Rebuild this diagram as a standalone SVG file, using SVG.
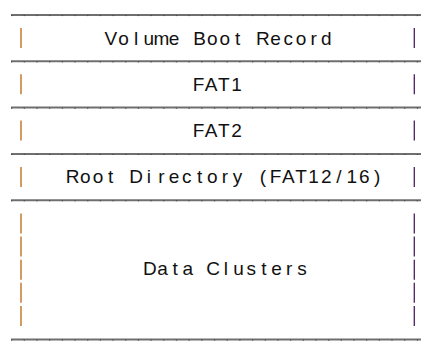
<svg xmlns="http://www.w3.org/2000/svg" width="444" height="354" viewBox="0 0 444 354">
  <style>
    .rule { stroke: #6f6f6f; stroke-width: 2; fill: none; }
    .tick { stroke: #474747; stroke-width: 1; stroke-dasharray: 1.3 11.38; fill: none; }
    .barL { stroke: #c0701f; stroke-width: 1.4; }
    .barR { stroke: #4a1e5e; stroke-width: 1.3; }
    .lbl { font-family: "Liberation Sans", Arial, sans-serif; font-size: 19px; fill: #111111; text-anchor: middle; }
  </style>
  <defs>
    <g id="rule">
      <line class="rule" x1="11" y1="0" x2="421" y2="0"/>
      <line class="tick" x1="11" y1="0.6" x2="421" y2="0.6"/>
    </g>
  </defs>
  <rect width="444" height="354" fill="#ffffff"/>

  <!-- horizontal dividers between the regions -->
  <g id="dividers">
    <use href="#rule" y="15"/>
    <use href="#rule" y="61.3"/>
    <use href="#rule" y="107.6"/>
    <use href="#rule" y="153.9"/>
    <use href="#rule" y="200.2"/>
    <use href="#rule" y="339.5"/>
  </g>

  <g id="vbr">
    <line class="barL" x1="21" y1="28" x2="21" y2="48"/>
    <line class="barR" x1="414.3" y1="28" x2="414.3" y2="48"/>
    <text class="lbl" y="44.5" x="110.76 123.44 136.12 148.80 161.48 174.16 186.84 199.52 212.20 224.88 237.56 250.24 262.92 275.60 288.28 300.96 313.64 326.32">Volume Boot Record</text>
  </g>

  <g id="fat1">
    <line class="barL" x1="21" y1="74.3" x2="21" y2="94.3"/>
    <line class="barR" x1="414.3" y1="74.3" x2="414.3" y2="94.3"/>
    <text class="lbl" y="90.8" x="198.52 211.20 223.88 236.56">FAT1</text>
  </g>

  <g id="fat2">
    <line class="barL" x1="21" y1="120.6" x2="21" y2="140.6"/>
    <line class="barR" x1="414.3" y1="120.6" x2="414.3" y2="140.6"/>
    <text class="lbl" y="137.1" x="198.52 211.20 223.88 236.56">FAT2</text>
  </g>

  <g id="root-dir">
    <line class="barL" x1="21" y1="166.9" x2="21" y2="186.9"/>
    <line class="barR" x1="414.3" y1="166.9" x2="414.3" y2="186.9"/>
    <text class="lbl" y="183.4" x="72.72 85.40 98.08 110.76 123.44 136.12 148.80 161.48 174.16 186.84 199.52 212.20 224.88 237.56 250.24 262.92 275.60 288.28 300.96 313.64 326.32 339.00 351.68 364.36 377.04">Root Directory (FAT12/16)</text>
  </g>

  <g id="data-clusters">
    <line class="barL" x1="21" y1="213.4" x2="21" y2="233.4"/>
    <line class="barL" x1="21" y1="236.5" x2="21" y2="256.5"/>
    <line class="barL" x1="21" y1="259.7" x2="21" y2="279.7"/>
    <line class="barL" x1="21" y1="282.8" x2="21" y2="302.8"/>
    <line class="barL" x1="21" y1="306" x2="21" y2="326"/>
    <line class="barR" x1="414.3" y1="213.4" x2="414.3" y2="233.4"/>
    <line class="barR" x1="414.3" y1="236.5" x2="414.3" y2="256.5"/>
    <line class="barR" x1="414.3" y1="259.7" x2="414.3" y2="279.7"/>
    <line class="barR" x1="414.3" y1="282.8" x2="414.3" y2="302.8"/>
    <line class="barR" x1="414.3" y1="306" x2="414.3" y2="326"/>
    <text class="lbl" y="275" x="149.80 162.48 175.16 187.84 200.52 213.20 225.88 238.56 251.24 263.92 276.60 289.28 301.96">Data Clusters</text>
  </g>
</svg>
